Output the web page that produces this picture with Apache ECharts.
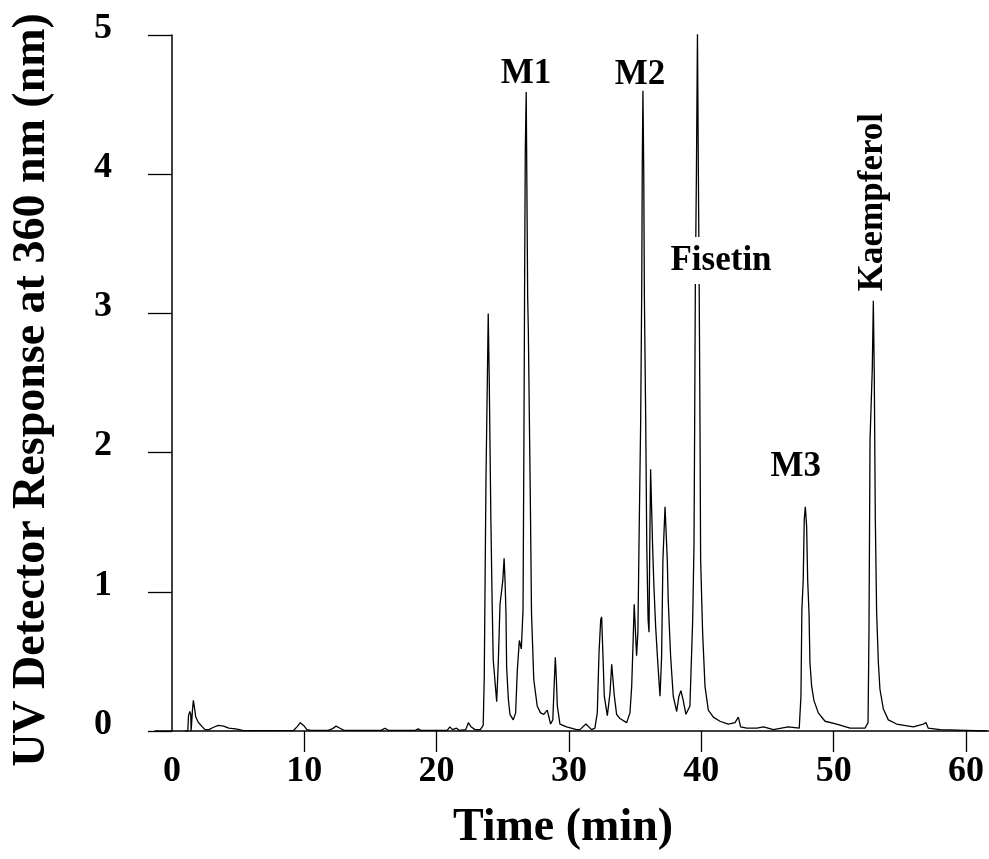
<!DOCTYPE html>
<html>
<head>
<meta charset="utf-8">
<script src="https://cdn.jsdelivr.net/npm/echarts@6/dist/echarts.min.js"></script>
<style>
html,body{margin:0;padding:0;background:#fff;}
#chart{width:989px;height:859px;}
</style>
</head>
<body>
<div id="chart"></div>
<script>
// Retention time (min)
var times = [
1.0,1.2,1.25,1.35,1.42,1.45,1.5,1.55,1.62,1.7,1.8,1.95,2.1,2.3,2.5,2.8,3.1,3.5,3.9,4.3,4.8,5.1,5.4,
9.2,9.45,9.7,9.95,10.2,10.5,11.8,12.1,12.4,12.7,13.0,15.8,16.1,16.35,18.4,18.6,18.8,20.8,21.0,21.2,21.5,21.7,
22.2,22.4,22.6,22.9,23.3,23.52,23.6,23.73,23.83,23.9,23.98,24.1,24.2,24.28,24.4,24.54,24.66,24.79,24.94,
25.0,25.1,25.17,25.24,25.29,25.42,25.54,25.79,25.97,26.1,26.25,26.4,26.53,26.6,26.65,26.7,26.77,26.88,26.93,
27.09,27.17,27.34,27.6,27.85,28.1,28.36,28.51,28.61,28.78,28.9,28.97,29.05,29.12,29.32,29.82,30.58,30.83,
31.28,31.71,31.96,32.14,32.27,32.4,32.47,32.57,32.67,32.9,33.1,33.23,33.33,33.43,33.6,33.85,34.36,34.61,
34.74,34.86,34.93,35.04,35.11,35.21,35.31,35.42,35.5,35.54,35.59,35.65,35.7,35.8,35.88,35.98,36.05,36.1,
36.17,36.25,36.32,36.42,36.55,36.7,36.88,37.0,37.1,37.26,37.35,37.43,37.5,37.68,37.88,38.14,38.31,38.46,
38.61,38.84,39.14,39.35,39.45,39.5,39.55,39.63,39.71,39.78,39.84,39.9,39.95,40.1,40.28,40.53,40.91,41.41,
42.04,42.55,42.8,42.97,43.43,44.2,44.7,45.45,46.57,47.4,47.53,47.6,47.7,47.78,47.86,47.96,48.04,48.14,
48.21,48.34,48.51,48.84,49.35,50.23,51.24,52.37,52.6,52.67,52.75,52.92,53.0,53.07,53.15,53.25,53.38,53.5,
53.75,54.13,54.76,56.02,56.78,56.98,57.15,58.04,60.05,61.56
];
// UV detector response at 360 nm
var response = [
0,0,0.11,0.14,0.12,0,0,0.15,0.22,0.17,0.10,0.07,0.05,0.03,0.01,0.01,0.025,0.04,0.035,0.02,0.015,0.01,0.003,
0.005,0.03,0.06,0.04,0.01,0.005,0.005,0.015,0.035,0.02,0.005,0.005,0.02,0.005,0.005,0.015,0.005,0.005,0.03,0.01,0.02,0.005,
0.01,0.06,0.03,0.01,0.01,0.04,0.39,1.81,2.5,3.0,2.5,1.52,0.9,0.51,0.37,0.21,0.49,0.91,0.92,
1.08,1.24,1.08,0.85,0.46,0.23,0.12,0.08,0.13,0.44,0.65,0.59,0.87,2.14,3.24,4.16,4.59,3.12,2.88,
1.59,0.85,0.37,0.18,0.13,0.12,0.15,0.09,0.05,0.08,0.37,0.53,0.37,0.18,0.05,0.03,0.01,0.01,
0.05,0.01,0.02,0.13,0.56,0.8,0.82,0.54,0.25,0.11,0.27,0.48,0.48,0.25,0.12,0.09,0.06,0.13,
0.32,0.68,0.91,0.9,0.54,0.71,1.47,2.23,3.2,4.06,4.6,4.04,3.12,2.23,1.33,0.8,0.71,1.27,
1.88,1.89,1.33,1.04,0.75,0.51,0.25,0.53,1.23,1.61,1.6,1.23,0.94,0.54,0.25,0.14,0.25,0.29,
0.23,0.12,0.18,0.8,1.35,2.23,3.2,3.99,5.02,3.99,3.2,2.23,1.23,0.71,0.32,0.15,0.1,0.07,
0.05,0.06,0.1,0.03,0.02,0.02,0.03,0.01,0.03,0.02,0.25,0.87,1.08,1.52,1.61,1.47,1.08,0.85,
0.49,0.32,0.22,0.13,0.07,0.05,0.02,0.02,0.06,0.7,2.09,2.6,3.09,2.57,1.52,0.85,0.49,0.3,
0.16,0.08,0.05,0.03,0.05,0.06,0.02,0.01,0.005,0
];
var xTickLabels = [0,10,20,30,40,50,60];
var xTickMarks = [10,20,30,40,50,60];
var peakNames = ['M1','M2','Fisetin','M3','Kaempferol'];

var FONT = '"Liberation Serif", "Times New Roman", serif';
var series = [];
for (var i = 0; i < times.length; i++) series.push([times[i], response[i]]);

// label anchors in data coordinates (time, response)
var labelAnchors = [
  {coord:[26.76, 4.72], rotate:0, bg:null},
  {coord:[35.37, 4.71], rotate:0, bg:null},
  {coord:[41.49, 3.38], rotate:0, bg:'#fff'},
  {coord:[47.14, 1.90], rotate:0, bg:null},
  {coord:[53.0, 3.80], rotate:90, bg:null}
];

var chart = echarts.init(document.getElementById('chart'), null, {renderer:'canvas'});
chart.setOption({
  animation:false,
  backgroundColor:'#fff',
  grid:{left:155, right:0, top:35, bottom:128, containLabel:false},
  xAxis:{
    type:'value', min:-1.28, max:61.74,
    axisLine:{show:true, onZero:true, lineStyle:{color:'#000', width:1.5}},
    axisTick:{show:true, customValues:xTickMarks, length:21, inside:false, lineStyle:{color:'#000', width:1.3}},
    axisLabel:{show:true, customValues:xTickLabels, margin:23, color:'#000',
      fontFamily:FONT, fontWeight:'bold', fontSize:36},
    splitLine:{show:false}
  },
  yAxis:{
    type:'value', min:0, max:5, interval:1,
    axisLine:{show:true, onZero:true, lineStyle:{color:'#000', width:1.5}},
    axisTick:{show:true, length:24, inside:false, lineStyle:{color:'#000', width:1.3}},
    axisLabel:{show:true, margin:43, color:'#000', fontFamily:FONT, fontWeight:'bold', fontSize:36,
      verticalAlign:'bottom', lineHeight:13},
    splitLine:{show:false}
  },
  graphic:[
    {type:'text', x:563, y:828, style:{text:'Time (min)', fill:'#000',
      font:'bold 46px ' + FONT, textAlign:'center', textVerticalAlign:'middle'}},
    {type:'text', x:32, y:390, rotation:Math.PI/2, style:{text:'UV Detector Response at 360 nm (nm)', fill:'#000',
      font:'bold 46px ' + FONT, textAlign:'center', textVerticalAlign:'middle'}}
  ],
  series:[{
    type:'line', data:series, showSymbol:false, symbol:'none', smooth:false,
    lineStyle:{color:'#000', width:1.3},
    markPoint:{
      symbol:'circle', symbolSize:0, silent:true,
      data: labelAnchors.map(function(a, k){
        return {coord:a.coord, symbolSize:0,
          label:{show:true, formatter:peakNames[k], position:'inside', rotate:a.rotate,
            color:'#000', fontFamily:FONT, fontWeight:'bold', fontSize:35,
            backgroundColor:a.bg || 'transparent', padding:a.bg ? [6,2] : 0}};
      })
    }
  }]
});
</script>
</body>
</html>
